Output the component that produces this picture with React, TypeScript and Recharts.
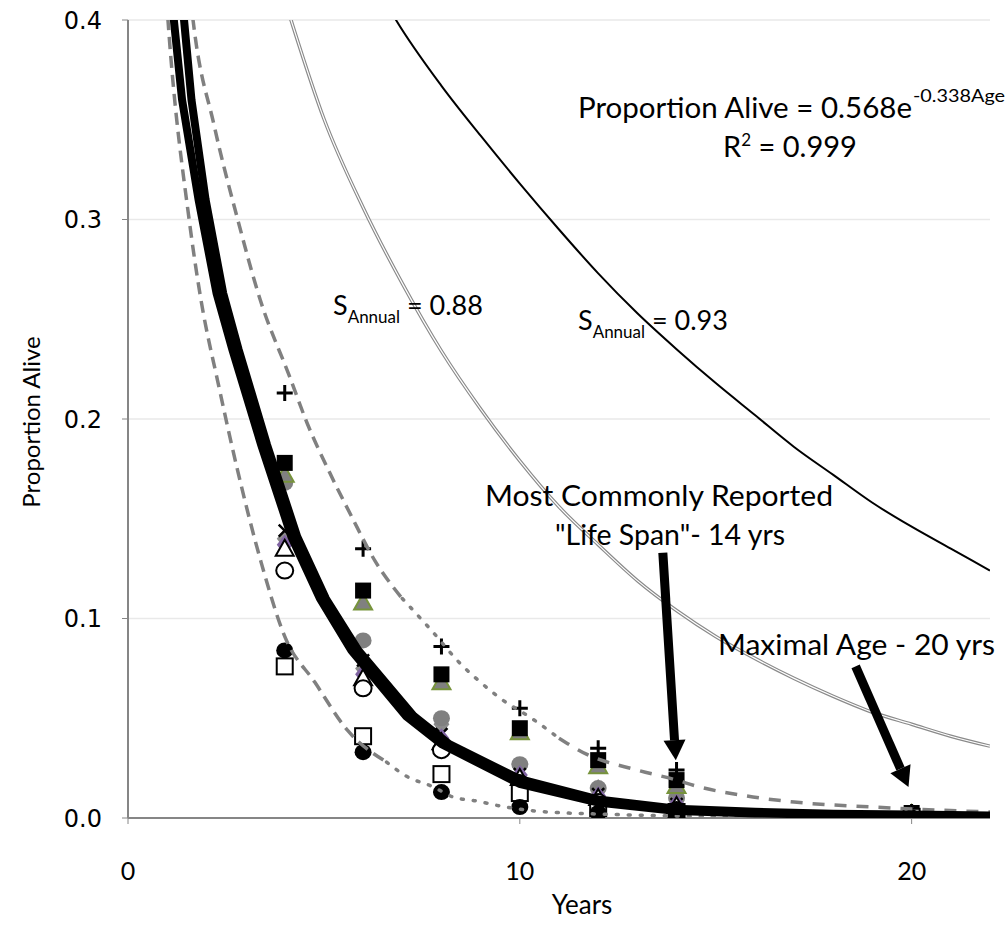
import React from "react";
import { ComposedChart, XAxis, YAxis, CartesianGrid, Line, ReferenceLine } from "recharts";

// sampled ages (years)
const ages = [4, 6, 8, 10, 12, 14, 20];

// proportion alive per data set, one value per age
const plusVals = [0.213, 0.135, 0.086, 0.055, 0.035, 0.024, 0.003];
const blackSquareVals = [0.178, 0.114, 0.072, 0.045, 0.029, 0.019, 0.0025];
const greenTriVals = [0.172, 0.108, 0.068, 0.043, 0.026, 0.016, 0.002];
const greyCircleVals = [0.168, 0.089, 0.05, 0.027, 0.015, 0.01, 0.002];
const greyDiamondVals = [0.14, 0.075, 0.047, 0.0256, 0.0145, 0.009, 0.002];
const crossVals = [0.144, 0.079, 0.042, 0.022, 0.012, 0.007, 0.001];
const purpleVals = [0.137, 0.072, 0.04, 0.0215, 0.011, 0.007, 0.0015];
const openTriVals = [0.135, 0.07, 0.038, 0.02, 0.01, 0.006, 0.0015];
const openCircleVals = [0.124, 0.065, 0.034, 0.0175, 0.008, 0.004, 0.0008];
const openSquareVals = [0.076, 0.041, 0.022, 0.0125, 0.005, 0.003, 0.0006];
const blackCircleVals = [0.084, 0.033, 0.013, 0.0055, 0.0025, 0.001, 0.0003];

// fitted curve, drawn as two heavy strokes side by side
const fitA: [number, number][] = [
  [1.08, 0.42], [1.17, 0.4], [1.38, 0.36], [1.8, 0.31], [2.26, 0.263], [2.66, 0.235], [3.4, 0.187],
  [4.17, 0.141], [4.9, 0.11], [5.7, 0.084], [7.1, 0.051], [8.0, 0.037], [10, 0.017], [12, 0.0078],
  [14, 0.0035], [16, 0.0023], [18, 0.0016], [20, 0.0013], [22, 0.0009],
];
const fitB: [number, number][] = [
  [1.34, 0.42], [1.43, 0.4], [1.62, 0.36], [1.98, 0.31], [2.43, 0.263], [2.82, 0.235], [3.55, 0.187],
  [4.32, 0.141], [5.05, 0.11], [5.88, 0.084], [7.3, 0.051], [8.2, 0.037], [10, 0.0195], [12, 0.0093],
  [14, 0.0047], [16, 0.0031], [18, 0.0021], [20, 0.0017], [22, 0.0013],
];

// grey bounds
const upperDash: [number, number][] = [
  [1.55, 0.42], [1.66, 0.4], [2.2, 0.347], [2.8, 0.3], [3.37, 0.26], [4.13, 0.221], [4.57, 0.198],
  [5.15, 0.173], [5.71, 0.151], [6.3, 0.129], [7.0, 0.11],
];
const upperDot: [number, number][] = [
  [7.0, 0.11], [7.7, 0.095], [8.5, 0.077], [9.0, 0.068], [9.5, 0.06], [10.3, 0.05], [11.0, 0.04],
];
const upperTail: [number, number][] = [
  [11.0, 0.04], [11.7, 0.032], [13.0, 0.024], [14, 0.019], [14.5, 0.016], [15.8, 0.011], [17, 0.008],
  [19, 0.0055], [22, 0.003],
];
const lowerDash: [number, number][] = [
  [0.95, 0.42], [1.02, 0.4], [1.56, 0.3], [1.86, 0.26], [2.3, 0.218], [2.8, 0.174], [3.4, 0.128],
  [4.0, 0.091], [4.77, 0.068], [5.6, 0.044], [6.6, 0.028],
];
const lowerDot: [number, number][] = [
  [6.6, 0.028], [7.1, 0.021], [7.8, 0.0155], [8.3, 0.0105], [8.9, 0.0085], [9.5, 0.006], [10.4, 0.0035],
  [11.2, 0.0025], [12, 0.002], [14, 0.001], [16, 0.0006], [22, 0.0002],
];

// S annual = 0.88 (grey double) and 0.93 (black)
const s88: [number, number][] = [
  [4.0, 0.41], [4.16, 0.4], [5, 0.3505], [6, 0.306], [7, 0.268], [8, 0.234], [9, 0.205], [10, 0.179],
  [11, 0.156], [12, 0.137], [13, 0.119], [14, 0.104], [15, 0.091], [16, 0.08], [17, 0.07], [18, 0.061],
  [19, 0.053], [20, 0.047], [21, 0.041], [22, 0.036],
];
const s93: [number, number][] = [
  [6.6, 0.408], [6.84, 0.4], [8, 0.367], [9, 0.342], [10, 0.318], [11, 0.295], [12, 0.273], [13, 0.253],
  [14, 0.235], [15, 0.218], [16, 0.202], [17, 0.186], [18, 0.172], [19, 0.158], [20, 0.146], [21, 0.135],
  [22, 0.124],
];

const xTicks = [0, 10, 20];
const yTicks = [0, 0.1, 0.2, 0.3, 0.4];

const pts = (ys: number[]) => ages.map((x, i) => ({ x, y: ys[i] }));
const curve = (c: [number, number][]) => c.map(([x, y]) => ({ x, y }));

const FONT = "Lato, 'Open Sans', sans-serif";
const AXIS = "#868686";
const TOP = 650; // curves sit above the markers

const PlusMark = (p: any) => (
  <path key={p.index} d={`M${p.cx - 8},${p.cy}H${p.cx + 8}M${p.cx},${p.cy - 8}V${p.cy + 8}`} stroke="#000" strokeWidth={3} fill="none" />
);
const CrossMark = (p: any) => (
  <path key={p.index} d={`M${p.cx - 6},${p.cy - 6}L${p.cx + 6},${p.cy + 6}M${p.cx + 6},${p.cy - 6}L${p.cx - 6},${p.cy + 6}`} stroke="#000" strokeWidth={2.5} fill="none" />
);
const SquareMark = (fill: string, stroke: string, sw: number) => (p: any) => (
  <rect key={p.index} x={p.cx - 8} y={p.cy - 8} width={16} height={16} fill={fill} stroke={stroke} strokeWidth={sw} />
);
const CircleMark = (fill: string, stroke: string, sw: number) => (p: any) => (
  <ellipse key={p.index} cx={p.cx} cy={p.cy} rx={8.5} ry={8} fill={fill} stroke={stroke} strokeWidth={sw} />
);
const TriMark = (fill: string, stroke: string, sw: number) => (p: any) => (
  <polygon key={p.index} points={`${p.cx},${p.cy - 9} ${p.cx + 9},${p.cy + 7} ${p.cx - 9},${p.cy + 7}`} fill={fill} stroke={stroke} strokeWidth={sw} />
);
const DiamondMark = (fill: string) => (p: any) => (
  <polygon key={p.index} points={`${p.cx},${p.cy - 10} ${p.cx + 8},${p.cy} ${p.cx},${p.cy + 10} ${p.cx - 8},${p.cy}`} fill={fill} />
);

const Arrow = (p: any) => {
  const { x1, y1, x2, y2 } = p;
  const dx = x2 - x1;
  const dy = y2 - y1;
  const len = Math.hypot(dx, dy);
  const ux = dx / len;
  const uy = dy / len;
  const head = 20;
  const half = 11;
  const bx = x2 - ux * head;
  const by = y2 - uy * head;
  return (
    <g>
      <line x1={x1} y1={y1} x2={bx} y2={by} stroke="#000" strokeWidth={9} />
      <polygon points={`${x2},${y2} ${bx - uy * half},${by + ux * half} ${bx + uy * half},${by - ux * half}`} fill="#000" />
    </g>
  );
};

const lineCommon = { dataKey: "y", activeDot: false, isAnimationActive: false, legendType: "none" as const };
const curveCommon = { ...lineCommon, dot: false, zIndex: TOP } as any;

// marker-only series: a Line with no stroke
const markers: [number[], (p: any) => React.ReactElement][] = [
  [greyDiamondVals, DiamondMark("#8c8c8c")],
  [greyCircleVals, CircleMark("#808080", "none", 0)],
  [greenTriVals, TriMark("#808080", "#77933c", 2)],
  [blackSquareVals, SquareMark("#000", "#000", 0)],
  [plusVals, PlusMark],
  [crossVals, CrossMark],
  [purpleVals, DiamondMark("#8064a2")],
  [openTriVals, TriMark("#fff", "#000", 2)],
  [openCircleVals, CircleMark("#fff", "#000", 2)],
  [openSquareVals, SquareMark("#fff", "#000", 2)],
  [blackCircleVals, CircleMark("#000", "#000", 0)],
];

export default function App() {
  return (
    <div style={{ position: "absolute", left: 0, top: 0, width: 1006, height: 945, background: "#fff" }}>
      <ComposedChart width={1006} height={945} margin={{ top: 20, right: 16, bottom: 0, left: 0 }}>
        <CartesianGrid horizontal vertical={false} stroke="#e9e9e9" strokeWidth={1.5} />
        <XAxis
          type="number"
          dataKey="x"
          domain={[0, 22]}
          ticks={xTicks}
          allowDataOverflow
          height={127}
          axisLine={{ stroke: AXIS, strokeWidth: 2 }}
          tickLine={{ stroke: AXIS }}
          tickSize={6}
          tickMargin={38}
          tick={{ fontSize: 25, fill: "#000", fontFamily: FONT }}
        />
        <YAxis
          type="number"
          dataKey="y"
          domain={[0, 0.4]}
          ticks={yTicks}
          allowDataOverflow
          width={128}
          axisLine={{ stroke: AXIS, strokeWidth: 2 }}
          tickLine={{ stroke: AXIS }}
          tickSize={6}
          tickMargin={20}
          tickFormatter={(v: number) => v.toFixed(1)}
          tick={{ fontSize: 24, fill: "#000", fontFamily: "'DejaVu Sans', sans-serif" }}
        />

        {markers.map(([vals, shape], i) => (
          <Line key={"m" + i} {...lineCommon} data={pts(vals)} type="linear" stroke="none" dot={shape} zIndex={300} />
        ))}

        <Line {...curveCommon} data={curve(s88)} type="monotone" stroke="#8a8a8a" strokeWidth={3.5} />
        <Line {...curveCommon} data={curve(s88)} type="monotone" stroke="#fff" strokeWidth={1.2} />
        <Line {...curveCommon} data={curve(s93)} type="monotone" stroke="#000" strokeWidth={2} />

        <Line {...curveCommon} data={curve(upperDash)} type="monotone" stroke="#808080" strokeWidth={3.5} strokeDasharray="12 7" />
        <Line {...curveCommon} data={curve(upperDot)} type="monotone" stroke="#808080" strokeWidth={3.5} strokeDasharray="2 10" strokeLinecap="round" />
        <Line {...curveCommon} data={curve(upperTail)} type="monotone" stroke="#808080" strokeWidth={3.5} strokeDasharray="12 10" />
        <Line {...curveCommon} data={curve(lowerDash)} type="monotone" stroke="#808080" strokeWidth={3.5} strokeDasharray="12 7" />
        <Line {...curveCommon} data={curve(lowerDot)} type="monotone" stroke="#808080" strokeWidth={3.5} strokeDasharray="2 10" strokeLinecap="round" />

        <Line {...curveCommon} data={curve(fitA)} type="linear" stroke="#000" strokeWidth={8} />
        <Line {...curveCommon} data={curve(fitB)} type="linear" stroke="#000" strokeWidth={8} />

        <ReferenceLine segment={[{ x: 13.65, y: 0.133 }, { x: 13.98, y: 0.029 }]} shape={Arrow} {...({ zIndex: TOP } as any)} />
        <ReferenceLine segment={[{ x: 18.57, y: 0.076 }, { x: 19.92, y: 0.0155 }]} shape={Arrow} {...({ zIndex: TOP } as any)} />
      </ComposedChart>

      <svg width={1006} height={945} style={{ position: "absolute", left: 0, top: 0, pointerEvents: "none" }} fontFamily={FONT} fill="#000">
        <text x={578} y={118} fontSize={29} textLength={334} lengthAdjust="spacingAndGlyphs">Proportion Alive = 0.568e</text>
        <text x={913} y={102} fontSize={18} textLength={92} lengthAdjust="spacingAndGlyphs">-0.338Age</text>
        <text x={723} y={157} fontSize={29}>
          R<tspan dy={-11} fontSize={17}>2</tspan><tspan dy={11}> = 0.999</tspan>
        </text>
        <text x={333} y={315} fontSize={27}>
          S<tspan dy={8} fontSize={17}>Annual</tspan><tspan dy={-8}> = 0.88</tspan>
        </text>
        <text x={578} y={330} fontSize={27}>
          S<tspan dy={8} fontSize={17}>Annual</tspan><tspan dy={-8}> = 0.93</tspan>
        </text>
        <text x={485} y={506} fontSize={29} textLength={348} lengthAdjust="spacingAndGlyphs">Most Commonly Reported</text>
        <text x={555} y={545} fontSize={29} textLength={230} lengthAdjust="spacingAndGlyphs">"Life Span"- 14 yrs</text>
        <text x={718} y={655} fontSize={29} textLength={277} lengthAdjust="spacingAndGlyphs">Maximal Age - 20 yrs</text>
        <text x={582} y={914} fontSize={26} textAnchor="middle">Years</text>
        <text x={0} y={0} fontSize={24} textAnchor="middle" dominantBaseline="central" transform="translate(30,422) rotate(-90)">Proportion Alive</text>
      </svg>
    </div>
  );
}
